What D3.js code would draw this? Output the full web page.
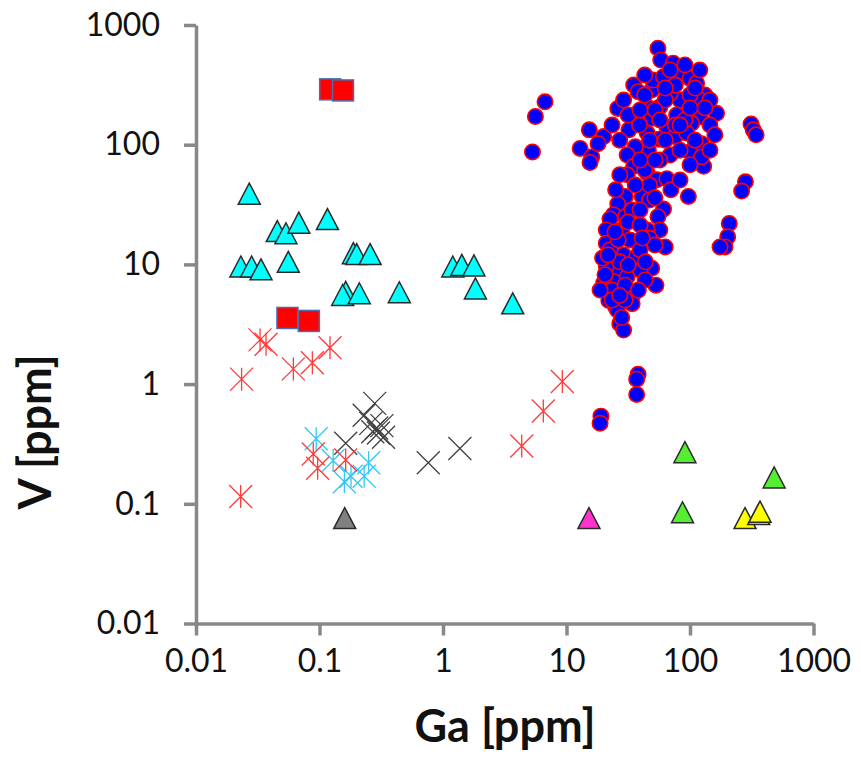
<!DOCTYPE html>
<html>
<head>
<meta charset="utf-8">
<script src="https://cdn.jsdelivr.net/npm/d3@7"></script>
<style>
  body { margin: 0; background: #fff; }
  text { font-family: Lato, "Open Sans", "DejaVu Sans", sans-serif; }
</style>
</head>
<body>
<svg id="chart" width="861" height="763"></svg>
<script>
// Axis ticks (log scale, ppm)
const xTicks = [0.01, 0.1, 1, 10, 100, 1000];
const yTicks = [0.01, 0.1, 1, 10, 100, 1000];
const xTickLabels = ["0.01", "0.1", "1", "10", "100", "1000"];
const yTickLabels = ["0.01", "0.1", "1", "10", "100", "1000"];

// Samples as [Ga, V] in ppm
const blueCircles = [
  [55,640],[58,510],[73,480],[35,315],[38,277],[49,286],[50,347],[61,370],[86,375],[100,358],
  [113,326],[132,260],[120,236],[94,207],[83,236],[69,268],[57,207],[45,207],[26,201],[29,236],
  [164,183],[120,171],[103,151],[78,177],[65,141],[49,166],[37,166],[32,133],[45,125],[56,111],
  [76,117],[94,125],[124,102],[100,87],[129,66],[124,79],[69,82],[46,90],[36,96],[31,82],
  [35,66],[31,56],[45,58],[54,51],[65,52],[70,42],[97,37],[41,37],[30,37],[26,32],
  [24,26],[22.5,24],[30,25],[21,19.4],[28,19.4],[21,15],[61,29],[55,25],[57,19.4],[45,19.4],
  [47,16.5],[63,14],[29,12],[37,11.6],[25,10.2],[26,8.7],[21,9.6],[20,7.0],[24,7.2],[31,7.9],
  [35,5.7],[34,4.7],[22,5.0],[25,4.4],[49,9.3],[53,6.7],[27,3.2],[29,2.83],
  [6.7,228],[5.6,172],[5.3,87],[15.3,133],[20,117],[12.9,93],[16,79],[15.5,71],[18,102],
  [312,149],[325,133],[343,121],[281,49],[262,41],[208,22],[202,17],[192,14],[175,14],
  [38,1.21],[37,1.1],[37,0.82],[19,0.54],[18.7,0.47],
  [22.5,13.2],[27,10.5],[20.5,8.2],[32.7,16],[39.4,9.0],[23.4,6.1],[29.8,6.7],[39.4,13.2],
  [18.7,6.1],[25.8,4.16],[26.2,16],[19.6,11.3],[43.5,10.5],[31.6,9.9],
  [63,236],[100,260],[76,315],[52,195],[91,161],[39,146],[110,109],[57,74.5],[83,90],
  [145,236],[69,421],[43,61.5],[25,42],[34,28.5],[47,34.5],
  [43,260],[31.5,177],[39.4,195],[57,161],[76,146],[145,146],[132,203],[100,203],[83,146],
  [63,109],[47,109],[27,109],[23.4,146],[52,74.5],[39.4,74.5],[100,68],[145,90],[159,121],
  [120,421],[91,464],[43,382],[63,297],[110,297],[83,50.7],[47,46],[36,46],[27,56],[52,36],
  [39.4,28.5],[24.7,18.7],[31.5,22.6],[39.4,21.3],[52,14.5],[41,16.6],[21.7,12],
  [43.3,7.41],[38.2,6.11],[29.8,5.04],[23.4,5.04],[27,5.5],[28,3.6]
];
const cyanTriangles = [
  [0.027,39],[0.0455,19],[0.0535,18.2],[0.068,22.3],[0.116,23.9],[0.0231,9.6],[0.0282,9.6],
  [0.0336,9.1],[0.0559,10.5],[0.188,12.4],[0.2,12.2],[0.257,12.2],[0.163,5.9],[0.154,5.55],
  [0.21,5.74],[0.443,5.85],[1.2,9.6],[1.42,9.9],[1.78,9.8],[1.83,6.3],[3.67,4.73]
];
const redSquares = [[0.122,290],[0.155,284],[0.055,3.57],[0.082,3.37]];
const redStars = [
  [0.033,2.34],[0.0369,2.15],[0.1216,2.01],[0.0234,1.10],[0.0614,1.34],[0.0875,1.51],
  [0.089,0.261],[0.0966,0.198],[0.163,0.232],[0.023,0.115],[9.25,1.05],[6.49,0.596],[4.34,0.304]
];
const blueStars = [[0.094,0.35],[0.129,0.23],[0.159,0.153],[0.18,0.17],[0.23,0.17],[0.25,0.22]];
const grayCrosses = [
  [0.28,0.69],[0.23,0.55],[0.26,0.47],[0.29,0.43],[0.32,0.45],[0.30,0.39],[0.33,0.36],
  [0.27,0.40],[0.163,0.32],[0.76,0.22],[1.37,0.29]
];
const grayTriangles = [[0.16,0.076]];
const magentaTriangles = [[15.2,0.076]];
const greenTriangles = [[91,0.27],[87,0.085],[480,0.166]];
const yellowTriangles = [[279,0.076],[360,0.082],[369,0.086]];

const svg = d3.select("#chart");
const x = d3.scaleLog().domain([0.01, 1000]).range([196, 813.5]);
const y = d3.scaleLog().domain([0.01, 1000]).range([623.5, 25]);

const axisColor = "#888888";

// Axes
const xAxis = svg.append("g")
  .attr("transform", `translate(0,${y(0.01)})`)
  .call(d3.axisBottom(x).tickValues(xTicks)
    .tickFormat((d, i) => xTickLabels[i]).tickSize(12).tickSizeOuter(0).tickPadding(14));
const yAxis = svg.append("g")
  .attr("transform", `translate(${x(0.01)},0)`)
  .call(d3.axisLeft(y).tickValues(yTicks)
    .tickFormat((d, i) => yTickLabels[i]).tickSize(12).tickSizeOuter(0).tickPadding(24));

[xAxis, yAxis].forEach(g => {
  g.select(".domain").attr("stroke", axisColor).attr("stroke-width", 3.5);
  g.selectAll(".tick line").attr("stroke", axisColor).attr("stroke-width", 3.5);
  g.selectAll(".tick text").attr("fill", "#111").style("font-size", "32px")
    .style("font-family", "Lato, 'Open Sans', sans-serif");
});

// Axis titles
svg.append("text")
  .attr("x", 505).attr("y", 742)
  .attr("text-anchor", "middle")
  .style("font-size", "45px").style("font-weight", "bold").attr("fill", "#111")
  .text("Ga [ppm]");
svg.append("text")
  .attr("transform", "translate(51,432) rotate(-90)")
  .attr("text-anchor", "middle")
  .style("font-size", "45px").style("font-weight", "bold").attr("fill", "#111")
  .text("V [ppm]");

// Marker shapes
const tri = (w, h) => `M0,${-h/2}L${w/2},${h/2}L${-w/2},${h/2}Z`;
const star = s => `M${-s},${-s}L${s},${s}M${-s},${s}L${s},${-s}M0,${-s}L0,${s}`;
const cross = s => `M${-s},${-s}L${s},${s}M${-s},${s}L${s},${-s}`;

const plot = svg.append("g");

function drawTriangles(data, fill) {
  plot.append("g").selectAll("path").data(data).join("path")
    .attr("transform", d => `translate(${x(d[0])},${y(d[1])})`)
    .attr("d", tri(22, 21))
    .attr("fill", fill).attr("stroke", "#2b2b2b").attr("stroke-width", 1.5)
    .attr("stroke-linejoin", "miter");
}

// Cyan triangles
drawTriangles(cyanTriangles, "#00ffff");

// Blue circles with red rims
plot.append("g").selectAll("circle").data(blueCircles).join("circle")
  .attr("cx", d => x(d[0])).attr("cy", d => y(d[1]))
  .attr("r", 7.7)
  .attr("fill", "#0000ff").attr("stroke", "#ff0000").attr("stroke-width", 1.6);

// Red squares
plot.append("g").selectAll("rect").data(redSquares).join("rect")
  .attr("x", d => x(d[0]) - 10.5).attr("y", d => y(d[1]) - 10.5)
  .attr("width", 21).attr("height", 21)
  .attr("fill", "#ff0000").attr("stroke", "#4a6fb0").attr("stroke-width", 1.5);

// Gray crosses
plot.append("g").selectAll("path").data(grayCrosses).join("path")
  .attr("transform", d => `translate(${x(d[0])},${y(d[1])})`)
  .attr("d", cross(11.5))
  .attr("fill", "none").attr("stroke", "#404040").attr("stroke-width", 1.3);

// Light blue asterisks
plot.append("g").selectAll("path").data(blueStars).join("path")
  .attr("transform", d => `translate(${x(d[0])},${y(d[1])})`)
  .attr("d", star(11.5))
  .attr("fill", "none").attr("stroke", "#33c8f5").attr("stroke-width", 1.3);

// Red asterisks
plot.append("g").selectAll("path").data(redStars).join("path")
  .attr("transform", d => `translate(${x(d[0])},${y(d[1])})`)
  .attr("d", star(11.5))
  .attr("fill", "none").attr("stroke", "#ff3a3a").attr("stroke-width", 1.3);

// Single-sample groups near the lower edge
drawTriangles(grayTriangles, "#808080");
drawTriangles(magentaTriangles, "#ff33cc");
drawTriangles(greenTriangles, "#55ee33");
drawTriangles(yellowTriangles, "#ffff00");
</script>
</body>
</html>
